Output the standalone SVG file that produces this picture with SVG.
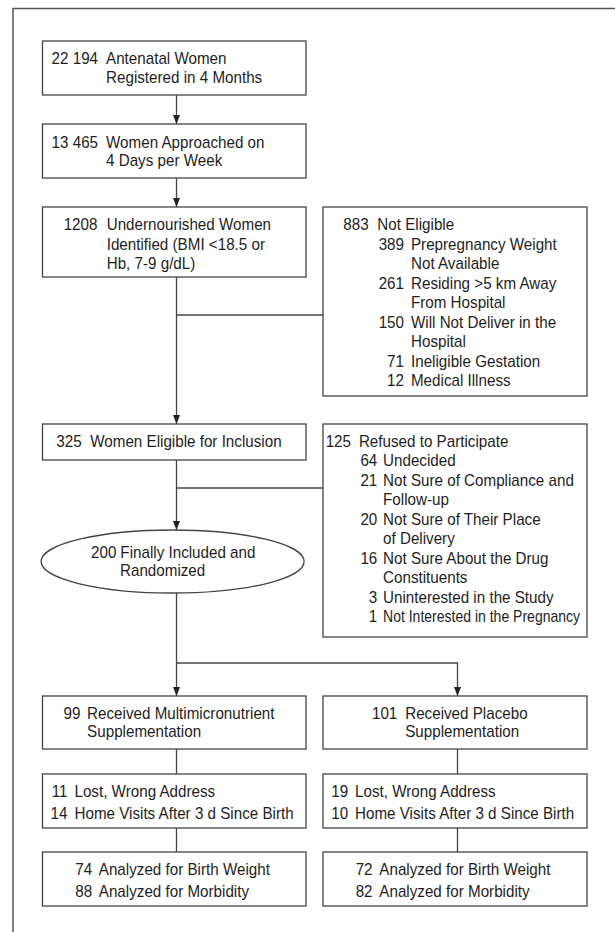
<svg xmlns="http://www.w3.org/2000/svg" width="615" height="932" viewBox="0 0 615 932">
<defs>
<style>
text{font-family:"Liberation Sans",Arial,sans-serif;font-size:16px;fill:#1e1e1e}
.n{text-anchor:end}
.box{fill:#fff;stroke:#444;stroke-width:1.3}
.ln{fill:none;stroke:#444;stroke-width:1.3}
</style>
<marker id="ah" viewBox="0 0 9 7" refX="9" refY="3.5" markerWidth="9" markerHeight="7" markerUnits="userSpaceOnUse" orient="auto">
<path d="M0,0 L9,3.5 L0,7 z" fill="#222"/>
</marker>
</defs>
<rect width="615" height="932" fill="#fff"/>
<path d="M13,932 V8.5 H615" fill="none" stroke="#555" stroke-width="1.5"/>

<g id="connectors">
<path class="ln" d="M176.5,95 V124" marker-end="url(#ah)"/>
<path class="ln" d="M176.5,178 V207" marker-end="url(#ah)"/>
<path class="ln" d="M176.5,277 V424" marker-end="url(#ah)"/>
<path class="ln" d="M176.5,315 H323"/>
<path class="ln" d="M176.5,460 V530" marker-end="url(#ah)"/>
<path class="ln" d="M176.5,488 H323"/>
<path class="ln" d="M176.5,593 V696" marker-end="url(#ah)"/>
<path class="ln" d="M176.5,663 H457.5 V696" marker-end="url(#ah)"/>
<path class="ln" d="M176.5,749 V774"/>
<path class="ln" d="M176.5,828 V852"/>
<path class="ln" d="M457.5,749 V774"/>
<path class="ln" d="M457.5,828 V852"/>
</g>

<g id="registered">
<rect class="box" x="42.5" y="41" width="263.5" height="54"/>
<g transform="scale(0.95 1)">
<text class="n" x="103.2" y="64.5">22 194</text>
<text x="111.6" y="64.5">Antenatal Women</text>
<text x="111.6" y="83">Registered in 4 Months</text>
</g>
</g>

<g id="approached">
<rect class="box" x="42.5" y="124" width="263.5" height="54"/>
<g transform="scale(0.95 1)">
<text class="n" x="103.2" y="148.5">13 465</text>
<text x="111.6" y="148.5">Women Approached on</text>
<text x="111.6" y="166.5">4 Days per Week</text>
</g>
</g>

<g id="undernourished">
<rect class="box" x="42.5" y="207" width="263.5" height="70"/>
<g transform="scale(0.95 1)">
<text class="n" x="102.6" y="230.5">1208</text>
<text x="112.3" y="230.5">Undernourished Women</text>
<text x="112.3" y="250">Identified (BMI &lt;18.5 or</text>
<text x="112.3" y="269.5">Hb, 7-9 g/dL)</text>
</g>
</g>

<g id="not-eligible">
<rect class="box" x="323" y="207" width="264" height="189"/>
<g transform="scale(0.95 1)">
<text class="n" x="388.1" y="230.5">883</text>
<text x="397.2" y="230.5">Not Eligible</text>
<text class="n" x="425.3" y="250">389</text>
<text x="432.6" y="250">Prepregnancy Weight</text>
<text x="432.6" y="269.5">Not Available</text>
<text class="n" x="425.3" y="289">261</text>
<text x="432.6" y="289">Residing &gt;5 km Away</text>
<text x="432.6" y="308.5">From Hospital</text>
<text class="n" x="425.3" y="328">150</text>
<text x="432.6" y="328">Will Not Deliver in the</text>
<text x="432.6" y="347.5">Hospital</text>
<text class="n" x="425.3" y="367">71</text>
<text x="432.6" y="367">Ineligible Gestation</text>
<text class="n" x="425.3" y="386.5">12</text>
<text x="432.6" y="386.5">Medical Illness</text>
</g>
</g>

<g id="eligible">
<rect class="box" x="42.5" y="424" width="263.5" height="36"/>
<g transform="scale(0.95 1)">
<text class="n" x="85.9" y="447.5">325</text>
<text x="95" y="447.5">Women Eligible for Inclusion</text>
</g>
</g>

<g id="refused">
<rect class="box" x="323" y="424" width="264" height="213"/>
<g transform="scale(0.95 1)">
<text class="n" x="369.5" y="447">125</text>
<text x="377.8" y="447">Refused to Participate</text>
<text class="n" x="397.2" y="466.5">64</text>
<text x="403.2" y="466.5">Undecided</text>
<text class="n" x="397.2" y="486">21</text>
<text x="403.2" y="486">Not Sure of Compliance and</text>
<text x="403.2" y="505.5">Follow-up</text>
<text class="n" x="397.2" y="525">20</text>
<text x="403.2" y="525">Not Sure of Their Place</text>
<text x="403.2" y="544.5">of Delivery</text>
<text class="n" x="397.2" y="564">16</text>
<text x="403.2" y="564">Not Sure About the Drug</text>
<text x="403.2" y="583.5">Constituents</text>
<text class="n" x="397.2" y="603">3</text>
<text x="403.2" y="603">Uninterested in the Study</text>
<text class="n" x="397.2" y="622.5">1</text>
<text x="403.2" y="622.5" textLength="207.4" lengthAdjust="spacingAndGlyphs">Not Interested in the Pregnancy</text>
</g>
</g>

<g id="randomized">
<ellipse class="box" cx="172.6" cy="561.5" rx="131.5" ry="31.5"/>
<g transform="scale(0.95 1)">
<text class="n" x="122.6" y="558">200</text>
<text x="126.7" y="558">Finally Included and</text>
<text x="126.3" y="576.5">Randomized</text>
</g>
</g>

<g id="multimicronutrient">
<rect class="box" x="42.5" y="696" width="263.5" height="53"/>
<g transform="scale(0.95 1)">
<text class="n" x="84.6" y="719">99</text>
<text x="91.7" y="719">Received Multimicronutrient</text>
<text x="91.7" y="737">Supplementation</text>
</g>
</g>

<g id="placebo">
<rect class="box" x="323" y="696" width="264" height="53"/>
<g transform="scale(0.95 1)">
<text class="n" x="418.2" y="719">101</text>
<text x="426.5" y="719">Received Placebo</text>
<text x="426.5" y="737">Supplementation</text>
</g>
</g>

<g id="lost-a">
<rect class="box" x="42.5" y="774" width="263.5" height="54"/>
<g transform="scale(0.95 1)">
<text class="n" x="71" y="797.5">11</text>
<text x="78.4" y="797.5">Lost, Wrong Address</text>
<text class="n" x="71" y="819">14</text>
<text x="78.4" y="819">Home Visits After 3 d Since Birth</text>
</g>
</g>

<g id="lost-b">
<rect class="box" x="323" y="774" width="264" height="54"/>
<g transform="scale(0.95 1)">
<text class="n" x="366.6" y="797.5">19</text>
<text x="373.7" y="797.5">Lost, Wrong Address</text>
<text class="n" x="366.6" y="819">10</text>
<text x="373.7" y="819">Home Visits After 3 d Since Birth</text>
</g>
</g>

<g id="analyzed-a">
<rect class="box" x="42.5" y="852" width="263.5" height="54"/>
<g transform="scale(0.95 1)">
<text class="n" x="97" y="875.5">74</text>
<text x="104" y="875.5">Analyzed for Birth Weight</text>
<text class="n" x="97" y="897">88</text>
<text x="104" y="897">Analyzed for Morbidity</text>
</g>
</g>

<g id="analyzed-b">
<rect class="box" x="323" y="852" width="264" height="54"/>
<g transform="scale(0.95 1)">
<text class="n" x="392.2" y="875.5">72</text>
<text x="399.3" y="875.5">Analyzed for Birth Weight</text>
<text class="n" x="392.2" y="897">82</text>
<text x="399.3" y="897">Analyzed for Morbidity</text>
</g>
</g>
</svg>
